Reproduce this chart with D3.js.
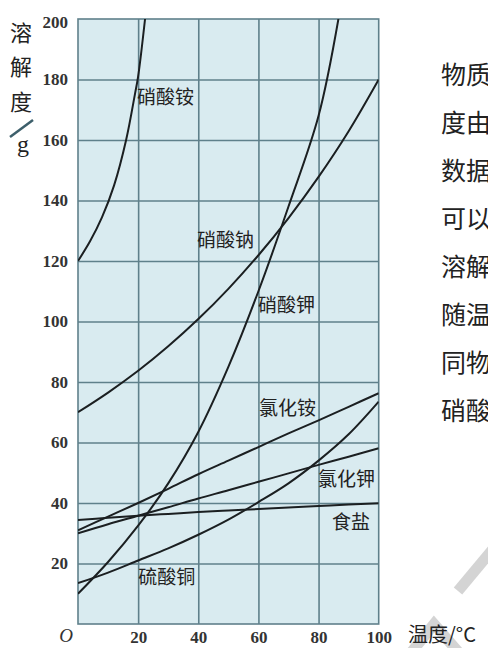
<!doctype html>
<html>
<head>
<meta charset="utf-8">
<script src="https://cdn.jsdelivr.net/npm/d3@7"></script>
<style>
  body { margin: 0; background: #fff; }
  svg { display: block; }
</style>
</head>
<body>
<div id="chart"></div>
<script>
// temperatures (°C) at which each curve is sampled
var temps = [0, 10, 20, 30, 40, 50, 60, 70, 80, 90, 100];

// solubility (g / 100 g water)
var nh4no3T = [0, 4, 8, 12, 16, 19, 20, 22.3];
var nh4no3 = [120, 126.5, 134.5, 145, 160, 175.5, 181, 200];
var knoT = [0, 10, 20, 30, 40, 50, 60, 70, 80, 86.6];
var kno3 = [10, 20.5, 32.5, 46.5, 63.5, 85, 110, 138, 168, 200];
var nano3 = [70, 76.5, 83.7, 91.8, 100.8, 110.8, 121.9, 134.2, 147.8, 162.9, 180];
var nh4cl = [31, 35.5, 40, 44.7, 49.5, 54, 58.5, 63, 67.3, 71.8, 76.3];
var kcl = [30, 33, 35.8, 38.6, 41.5, 44.2, 47, 49.8, 52.6, 55.3, 58.1];
var nacl = [34.4, 35.1, 35.8, 36.4, 37, 37.5, 38, 38.5, 39, 39.5, 39.9];
var cuso4 = [13.5, 17, 21, 25, 29.5, 34.5, 40.3, 46.5, 54, 62.7, 73.5];

var xTicks = [20, 40, 60, 80, 100];
var yTicks = [20, 40, 60, 80, 100, 120, 140, 160, 180, 200];

// curve names and where their label sits (in °C / g)
var labelNames = ["硝酸铵", "硝酸钠", "硝酸钾", "氯化铵", "氯化钾", "食盐", "硫酸铜"];
var labelT = [19.6, 39.6, 59.9, 60.2, 79.8, 84.5, 20];
var labelV = [174.2, 126.9, 105.5, 71.4, 47.9, 33.7, 15.5];

// the text column cut off at the right edge
var sideText = ["物质", "度由", "数据", "可以", "溶解", "随温", "同物", "硝酸"];

var W = 488, H = 648;
var pl = 78, pr = 378.7, pt = 19, pb = 624;   // plot box

var svg = d3.select("#chart").append("svg")
    .attr("width", W)
    .attr("height", H);

var x = d3.scaleLinear().domain([0, 100]).range([pl, pr]);
var y = d3.scaleLinear().domain([0, 200]).range([pb, pt]);

// faint watermark stripes
svg.append("path")
    .attr("d", "M458,591 L493,549")
    .attr("stroke", "#d4d4d4").attr("stroke-width", 11).attr("fill", "none");
svg.append("path")
    .attr("d", "M410,654 L434,624 L460,654")
    .attr("stroke", "#d4d4d4").attr("stroke-width", 11).attr("fill", "none");

// plot background
svg.append("rect")
    .attr("x", pl).attr("y", pt)
    .attr("width", pr - pl).attr("height", pb - pt)
    .attr("fill", "#d9ebf0");

var gridColor = "#5f808b";

// grid lines
var gx = svg.append("g")
    .attr("transform", "translate(0," + pb + ")")
    .call(d3.axisBottom(x).tickValues([20, 40, 60, 80]).tickSize(pt - pb).tickFormat(""));
var gy = svg.append("g")
    .attr("transform", "translate(" + pl + ",0)")
    .call(d3.axisLeft(y).tickValues([20, 40, 60, 80, 100, 120, 140, 160, 180]).tickSize(pl - pr).tickFormat(""));
[gx, gy].forEach(function (g) {
    g.select(".domain").remove();
    g.selectAll("line").attr("stroke", gridColor).attr("stroke-width", 1.6);
});

svg.append("rect")
    .attr("x", pl).attr("y", pt)
    .attr("width", pr - pl).attr("height", pb - pt)
    .attr("fill", "none")
    .attr("stroke", gridColor).attr("stroke-width", 1.6);

// curves
svg.append("clipPath").attr("id", "plot-clip")
    .append("rect")
    .attr("x", pl).attr("y", pt)
    .attr("width", pr - pl).attr("height", pb - pt);

var line = d3.line()
    .x(function (d) { return x(d[0]); })
    .y(function (d) { return y(d[1]); })
    .curve(d3.curveCatmullRom.alpha(0.5));

var series = [
    d3.zip(nh4no3T, nh4no3),
    d3.zip(knoT, kno3),
    d3.zip(temps, nano3),
    d3.zip(temps, nh4cl),
    d3.zip(temps, kcl),
    d3.zip(temps, nacl),
    d3.zip(temps, cuso4)
];

svg.append("g")
    .attr("clip-path", "url(#plot-clip)")
    .selectAll("path")
    .data(series)
    .enter()
    .append("path")
    .attr("d", line)
    .attr("fill", "none")
    .attr("stroke", "#1b1f21")
    .attr("stroke-width", 2);

// curve labels
var cjk = "'Noto Sans CJK SC', 'Noto Sans', sans-serif";
svg.append("g")
    .selectAll("text")
    .data(labelNames)
    .enter()
    .append("text")
    .attr("x", function (d, i) { return x(labelT[i]); })
    .attr("y", function (d, i) { return y(labelV[i]); })
    .attr("dy", "0.36em")
    .style("font-family", cjk)
    .style("font-size", "19px")
    .attr("fill", "#222")
    .text(function (d) { return d; });

// tick labels
var numFont = "'Liberation Serif', 'DejaVu Serif', serif";
var ay = svg.append("g")
    .attr("transform", "translate(" + pl + ",0)")
    .call(d3.axisLeft(y).tickValues(yTicks).tickSize(0).tickPadding(10));
var ax = svg.append("g")
    .attr("transform", "translate(0," + pb + ")")
    .call(d3.axisBottom(x).tickValues(xTicks).tickSize(0).tickPadding(7));
[ax, ay].forEach(function (g) {
    g.select(".domain").remove();
    g.selectAll("text")
        .style("font-family", numFont)
        .style("font-size", "17px")
        .style("font-weight", "bold")
        .attr("fill", "#333");
});
ay.selectAll("text").filter(function (d) { return d === 200; }).attr("dy", "0.5em");

svg.append("text")
    .attr("x", 66).attr("y", 642)
    .attr("text-anchor", "middle")
    .style("font-family", numFont)
    .style("font-size", "19px")
    .style("font-style", "italic")
    .attr("fill", "#333")
    .text("O");

// axis titles
var yTitle = ["溶", "解", "度"];
svg.append("g")
    .selectAll("text")
    .data(yTitle)
    .enter()
    .append("text")
    .attr("x", 21)
    .attr("y", function (d, i) { return [33, 67, 102][i]; })
    .attr("dy", "0.36em")
    .attr("text-anchor", "middle")
    .style("font-family", cjk)
    .style("font-size", "22px")
    .attr("fill", "#222")
    .text(function (d) { return d; });

svg.append("line")
    .attr("x1", 10).attr("y1", 137)
    .attr("x2", 33).attr("y2", 120)
    .attr("stroke", "#3d5f6b").attr("stroke-width", 2.5);

svg.append("text")
    .attr("x", 23).attr("y", 152)
    .attr("text-anchor", "middle")
    .style("font-family", numFont)
    .style("font-size", "24px")
    .attr("fill", "#222")
    .text("g");

svg.append("text")
    .attr("x", 408).attr("y", 635)
    .attr("dy", "0.36em")
    .style("font-family", cjk)
    .style("font-size", "20px")
    .attr("fill", "#222")
    .text("温度/°C");

// text column on the right
svg.append("g")
    .selectAll("text")
    .data(sideText)
    .enter()
    .append("text")
    .attr("x", 441)
    .attr("y", function (d, i) { return 75 + i * 48; })
    .attr("dy", "0.36em")
    .style("font-family", cjk)
    .style("font-size", "25px")
    .attr("fill", "#222")
    .text(function (d) { return d; });
</script>
</body>
</html>
